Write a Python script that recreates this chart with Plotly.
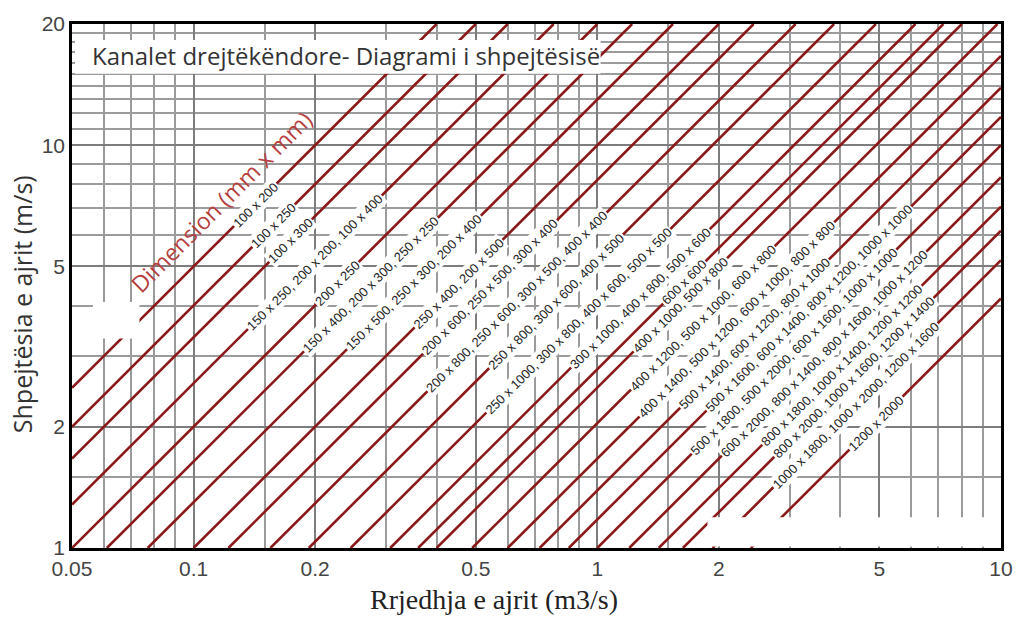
import numpy as np
import plotly.graph_objects as go

# ---------------- data ----------------
duct_areas = [0.02, 0.025, 0.03, 0.039, 0.05, 0.061, 0.077, 0.10, 0.122, 0.155,
              0.193, 0.245, 0.307, 0.36, 0.40, 0.49, 0.60, 0.72, 0.85, 1.0,
              1.2, 1.42, 1.63, 1.93, 2.4]
duct_labels = [
    "100 x 200", "100 x 250", "100 x 300",
    "150 x 250, 200 x 200, 100 x 400", "200 x 250",
    "150 x 400, 200 x 300, 250 x 250", "150 x 500, 250 x 300, 200 x 400",
    "250 x 400, 200 x 500", "200 x 600, 250 x 500, 300 x 400",
    "200 x 800, 250 x 600, 300 x 500, 400 x 400",
    "250 x 800, 300 x 600, 400 x 500",
    "250 x 1000, 300 x 800, 400 x 600, 500 x 500",
    "300 x 1000, 400 x 800, 500 x 600", "600 x 600",
    "400 x 1000, 500 x 800", "400 x 1200, 500 x 1000, 600 x 800",
    "400 x 1400, 500 x 1200, 600 x 1000, 800 x 800",
    "500 x 1400, 600 x 1200, 800 x 1000",
    "500 x 1600, 600 x 1400, 800 x 1200, 1000 x 1000",
    "500 x 1800, 500 x 2000, 600 x 1600, 1000 x 1000",
    "600 x 2000, 800 x 1400, 800 x 1600, 1000 x 1200",
    "800 x 1800, 1000 x 1400, 1200 x 1200",
    "800 x 2000, 1000 x 1600, 1200 x 1400",
    "1000 x 1800, 1000 x 2000, 1200 x 1600",
    "1200 x 2000",
]
# flow (m3/s) at which each label is centred on its line
label_flow = [0.142, 0.158, 0.174, 0.1995, 0.227, 0.275, 0.351, 0.454, 0.543, 0.633,
              0.791, 0.896, 1.279, 1.64, 1.603, 1.823, 2.215, 2.454, 3.34, 3.075,
              3.65, 4.03, 4.32, 4.37, 4.90]

x_ticks = [0.05, 0.1, 0.2, 0.5, 1, 2, 5, 10]
x_tick_text = ["0.05", "0.1", "0.2", "0.5", "1", "2", "5", "10"]
x_minor = [0.06, 0.07, 0.08, 0.09, 0.15, 0.3, 0.4, 0.6, 0.7, 0.8, 0.9, 1.5, 3, 4, 6, 7, 8, 9]
y_ticks = [1, 2, 5, 10, 20]
y_tick_text = ["1", "2", "5", "10", "20"]
y_minor = [1.5, 3, 4, 6, 7, 8, 9, 11, 12, 13, 14, 15, 16, 17, 18, 19]

Q_MIN, Q_MAX = 0.05, 10
V_MIN, V_MAX = 1, 20

LINE_COLOR = "#8a1a1a"

fig = go.Figure()

for A in duct_areas:
    q0 = max(Q_MIN, A * V_MIN)
    q1 = min(Q_MAX, A * V_MAX)
    fig.add_trace(go.Scatter(
        x=[q0, q1], y=[q0 / A, q1 / A], mode="lines",
        line=dict(color=LINE_COLOR, width=2.6),
        hoverinfo="skip", showlegend=False))

annotations = []
for A, lab, q in zip(duct_areas, duct_labels, label_flow):
    annotations.append(dict(
        x=np.log10(q), y=np.log10(q / A), xref="x", yref="y",
        xanchor="center", yanchor="middle",
        text=lab, showarrow=False, textangle=-45,
        bgcolor="white", borderpad=1,
        font=dict(family="Arial, Liberation Sans", size=13, color="#262626")))

# title
annotations.append(dict(
    x=0.0192, y=0.939, xref="paper", yref="paper", xanchor="left", yanchor="middle",
    text="Kanalet drejtëkëndore- Diagrami i shpejtësisë", showarrow=False,
    font=dict(family="Open Sans", size=24, color="#333333")))
# dimension label
annotations.append(dict(
    x=0.160, y=0.661, xref="paper", yref="paper", xanchor="center", yanchor="middle",
    textangle=-45, text="Dimension (mm x mm)", showarrow=False,
    font=dict(family="Open Sans", size=23, color="#b5403f")))
# axis titles
annotations.append(dict(
    x=0.4547, y=-0.0985, xref="paper", yref="paper", xanchor="center", yanchor="middle",
    text="Rrjedhja e ajrit (m3/s)", showarrow=False,
    font=dict(family="Liberation Serif, Times New Roman", size=28, color="#222222")))
annotations.append(dict(
    x=-0.0545, y=0.466, xref="paper", yref="paper", xanchor="center", yanchor="middle",
    text="Shpejtësia e ajrit (m/s)", showarrow=False, textangle=-90,
    font=dict(family="Open Sans", size=25, color="#333333")))

shapes = [
    # title box
    dict(type="rect", xref="paper", yref="paper", x0=0.0032, x1=0.569, y0=0.905, y1=0.9697,
         fillcolor="white", line=dict(width=0), layer="above"),
    # blank patch lower right
    dict(type="rect", xref="paper", yref="paper", x0=0.684, x1=0.997, y0=0.003, y1=0.0587,
         fillcolor="white", line=dict(width=0), layer="above"),
    # small blank patch left
    dict(type="rect", xref="paper", yref="paper", x0=0.0225, x1=0.0726, y0=0.3996, y1=0.4697,
         fillcolor="white", line=dict(width=0), layer="above"),
]

tickfont = dict(family="Arial, Liberation Sans", size=21, color="#444444")

fig.update_layout(
    width=1025, height=619, autosize=False,
    margin=dict(l=72, r=16, t=20, b=71),
    paper_bgcolor="white", plot_bgcolor="white",
    annotations=annotations, shapes=shapes,
    xaxis=dict(type="log", range=[np.log10(Q_MIN), np.log10(Q_MAX)],
               tickvals=x_ticks, ticktext=x_tick_text, ticks="",
               showgrid=True, gridcolor="#7d7d7d", gridwidth=2,
               minor=dict(tickvals=x_minor, showgrid=True, gridcolor="#9b9b9b", gridwidth=1.5, ticks=""),
               showline=True, mirror=True, linecolor="black", linewidth=2.5,
               tickfont=tickfont, zeroline=False, fixedrange=True),
    yaxis=dict(type="log", range=[np.log10(V_MIN), np.log10(V_MAX)],
               tickvals=y_ticks, ticktext=y_tick_text, ticks="",
               showgrid=True, gridcolor="#7d7d7d", gridwidth=2,
               minor=dict(tickvals=y_minor, showgrid=True, gridcolor="#9b9b9b", gridwidth=1.5, ticks=""),
               showline=True, mirror=True, linecolor="black", linewidth=2.5,
               tickfont=tickfont, zeroline=False, fixedrange=True),
)

fig.write_html("out.html")
